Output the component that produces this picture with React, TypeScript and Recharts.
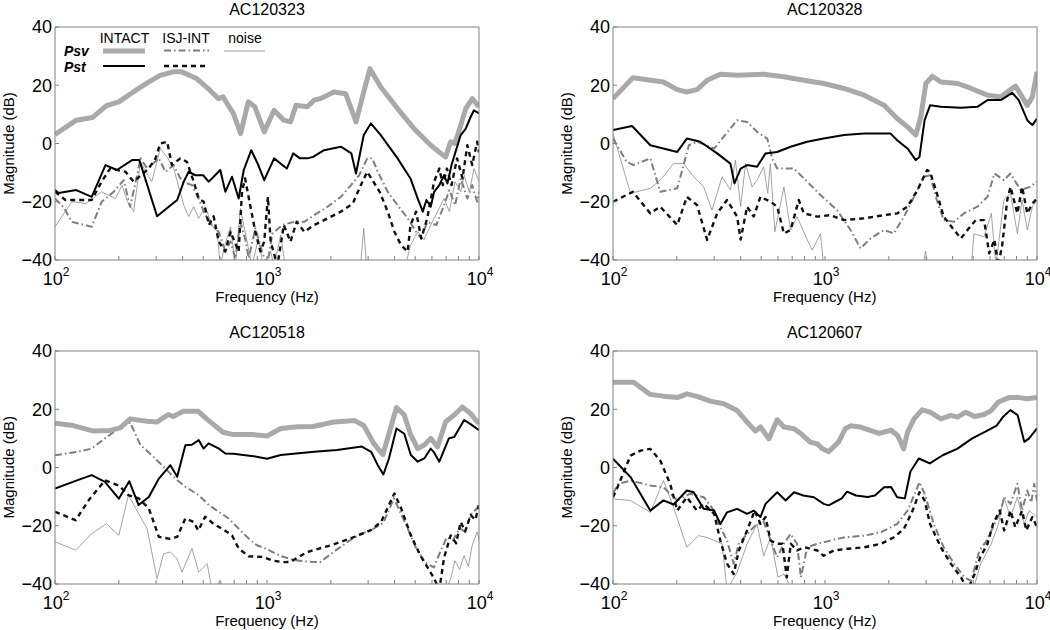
import React from 'react';
import { LineChart, Line, XAxis, YAxis } from 'recharts';

// ---- AC120323 ----
const f323PsvInt = [100,126,150,175,200,234,275,313,361,396,466,538,590,620,694,751,816,877,970,1080,1200,1290,1370,1550,1670,1780,2070,2350,2630,2860,3060,3440,4130,4940,5920,6610,6960,7350,7700,8200,8660,9290,10000];
const v323PsvInt = [3.1,8,8.9,13,14.3,17.7,21,23.4,24.6,24.6,22.3,18.3,15.4,16,10.3,3.4,14.3,12.6,4,11.4,8,7.4,13.1,12.6,14.9,15.4,17.7,17.1,7.4,17.7,25.7,19.4,12,5.1,-0.6,-3.4,-4.6,0.6,0,6.3,12,15.4,12.6];
const f323PstInt = [100,104,126,149,173,196,231,250,303,344,377,405,427,459,500,530,550,602,636,684,735,777,843,910,970,1080,1240,1330,1430,1550,1650,1860,2230,2500,2630,2860,3090,3440,4130,4750,5140,5430,5650,5920,6140,6500,6840,7100,7420,7710,8200,8660,9130,9470,10000];
const v323PstInt = [-16,-17,-16,-18.3,-7.4,-9.1,-5.7,-5.7,-25,-21.7,-19.4,-13.1,-9.7,-10.9,-10.9,-13.1,-12,-9.1,-16.6,-11.4,-18.9,-9.1,-2.3,-7.4,-12.6,-5.1,-8.6,-3.4,-5.1,-5.1,-4.6,-2.3,-1.1,-3.4,-10.3,2.9,6.9,2.9,-5.1,-12,-18.9,-23.4,-19.4,-21.7,-16.6,-14.3,-10.9,-13.7,-7.4,-3.4,2.9,5.1,9.1,11.4,10.3];
const f323PsvIsj = [100,110,120,149,166,189,211,226,244,253,272,309,332,363,397,443,476,511,550,592,636,673,709,749,790,820,881,948,1000,1060,1180,1340,1500,1670,1930,2230,2490,2720,2970,3140,3330,3710,4130,4610,5050,5340,5700,6290,6840,7250,7710,8200,8810,9290,9800,10000];
const v323PsvIsj = [-18.9,-22,-26.9,-28.6,-20,-16.6,-12.6,-21.7,-10.9,-5.1,-8.6,-5.1,-9.7,-7.4,-13.1,-14.3,-18.9,-24.6,-28,-30.3,-37.1,-33.7,-39.4,-26.9,-33,-39.4,-29.1,-37.1,-42,-31,-28,-26.9,-26.9,-24.6,-21.7,-18.3,-14.3,-10.9,-5.1,-5.1,-9.7,-16.6,-21.2,-25.7,-30.3,-32.6,-26.9,-28,-21.2,-16,-21.2,-12,-18.9,-14.3,-20,-16.6];
const f323PstIsj = [100,112,149,166,182,215,235,277,298,314,338,356,390,419,451,476,503,532,560,592,636,673,735,762,788,833,881,931,970,1010,1040,1120,1200,1290,1380,1500,1670,1930,2230,2540,2770,2970,3400,3710,3990,4290,4610,4750,5050,5340,5700,6140,6500,6750,7060,7420,7880,8360,8810,9290,9800,10000];
const v323PstIsj = [-16.6,-19.4,-19.4,-13.1,-8.6,-9.7,-13.1,-8.6,-5.1,0,0.6,-7.4,-5.1,-6.3,-13.1,-18.9,-20,-28,-25,-33.7,-37.1,-30.3,-37.1,-16.6,-12,-21.2,-30.3,-37.1,-33.7,-18.3,-33.7,-42,-28,-33.7,-26.9,-30.3,-28,-25.7,-23.4,-20.6,-14.3,-9.7,-16.6,-23.4,-30.3,-34.9,-37.1,-28,-23.4,-32.6,-25.7,-13.1,-8.6,-14.3,-8.6,-14.3,-5.1,-12,-0.6,-7.4,0.6,-3];
const f323Noise = [100,120,140,166,193,207,220,235,253,270,286,314,340,363,405,427,451,476,511,550,582,602,636,673,709,749,788,850,910,960,1040,1080,1160,1220,2760,2860,2950,4500,4750,5140,5500,5920,6380,6840,7250,7710,8200,8510,9000,9470,10000];
const v323Noise = [-28.6,-20,-20.6,-16.6,-18.9,-14.3,-20,-23.4,-6.3,-10,-13.1,-1.7,-5,-8.6,-21.2,-25.1,-21.7,-25.7,-21.7,-28,-30.3,-42,-34.3,-28.6,-42,-22.3,-30.3,-42,-32.6,-42,-37,-42,-31.4,-42,-42,-29.1,-42,-42,-35,-30.3,-33,-28,-23.4,-18.9,-23.4,-13.1,-16.6,-10.9,-16.6,-8.6,-13.1];

// ---- AC120328 ----
const f328PsvInt = [100,124,173,201,223,249,278,321,385,514,638,795,986,1230,1530,1900,2190,2450,2680,2830,2990,3210,3520,4220,4890,5840,6750,7500,7920,8510,9000,9510,10000];
const v328PsvInt = [15.4,22.6,21.1,18.5,17.7,18.5,21.7,23.8,23.4,23.8,22.9,21.7,20.6,18.9,16.6,13.1,8.6,5.7,2.9,9.1,20.6,23.1,21.1,20.6,18.9,16.6,16,18.5,19.7,16,13.1,16,24.6];
const f328PstInt = [100,123,150,201,223,258,310,358,374,400,429,478,524,595,688,824,986,1230,1530,2040,2190,2450,2680,2790,2950,3130,3520,4370,5230,5840,6750,7640,8200,9000,9510,10000];
const v328PstInt = [4.6,6,-0.6,-2.9,1.7,0.6,-3.4,-6.9,-13.7,-8.6,-7.4,-8,-3.4,-2.9,-1.1,0.6,1.7,2.9,3.4,3.4,1.1,-1.7,-5.7,-4.6,8,13.1,12.6,12.3,12.6,14.9,14.9,17.4,14.9,8,6.3,8.6];
const f328PsvIsj = [100,116,125,150,167,201,228,249,300,385,429,478,534,563,595,714,824,952,1140,1320,1470,1640,1900,2110,2360,2630,2930,3130,3370,3630,4060,4520,5230,5840,6300,6980,7500,8370,9260,10000];
const v328PsvIsj = [1.7,-6.3,-7.4,-5.1,-16.6,-15.4,-0.6,0.6,-1.7,8,7.4,4,1.7,-5.1,-8.6,-8.6,-13.1,-17.7,-22.9,-29.7,-36,-32.6,-29.7,-30.9,-25.1,-18.3,-11.4,-10.9,-19.4,-26.3,-26.9,-24,-21.7,-18.3,-10.3,-12.6,-10.3,-16,-14.9,-13.1];
const f328PstIsj = [100,124,150,167,201,223,249,278,310,345,385,400,429,461,496,554,595,640,688,752,795,920,1060,1230,1530,1900,2190,2450,2730,3030,3130,3370,3630,4060,4380,4700,5140,5630,5950,6300,6550,6850,7240,7500,8080,8510,9000,9510,10000];
const v328PstIsj = [-20,-16.6,-24,-21.7,-28,-18.3,-21.1,-33.1,-24,-19.4,-25.1,-33,-21.7,-25.1,-18.3,-20,-21.7,-30.9,-29.7,-19.4,-24,-25.1,-24.6,-26.3,-25.7,-24.6,-24,-21.7,-16,-9.1,-9.7,-17.1,-25.1,-29.7,-32.6,-29.7,-26.3,-26.3,-37.7,-33,-42,-35,-19.4,-14.9,-24,-14.9,-24,-20.6,-18.9];
const f328Noise = [100,121,150,170,193,215,240,268,293,327,358,378,400,422,453,478,514,537,552,580,640,688,738,824,870,952,986,1020,2900,2980,3060,4900,5040,5630,6090,6400,6980,7500,8080,8500,9000,9510,10000];
const v328Noise = [3.4,-17.1,-15.4,-12,-6.9,-6.9,-11.4,-14.9,-22.9,-11.4,-16,-5.7,-21.7,-6.9,-14.9,-12.6,-8,-17.1,-6.9,-30.3,-14.9,-29.7,-25.1,-33,-36.6,-31,-42,-42,-42,-37,-42,-42,-31,-32,-24,-42,-19.4,-17.1,-31,-19.4,-29.7,-21.7,-19.4];

// ---- AC120518 ----
const f518PsvInt = [100,122,152,182,203,226,271,302,342,361,403,474,519,620,694,863,1000,1160,1390,1650,2070,2590,2860,3200,3520,3760,4080,4440,4770,5140,5520,5920,6380,6960,7640,8350,9130,10000];
const v518PsvInt = [15.2,14.4,12.5,12.7,13.6,16.7,15.9,15.6,18.2,17.5,19.3,19.3,16.7,12.1,11.3,11.3,10.8,13.4,14,14.1,15.6,16.1,14.4,8.1,4.4,11.6,20.6,18,11.1,6.5,7.7,10,7.1,15.7,18,20.8,18.5,15];
const f518PstInt = [100,126,149,172,200,224,248,277,309,350,377,412,442,476,502,530,590,636,694,863,1000,1160,1670,2140,2800,3100,3330,3540,3760,4080,4440,4770,5140,5520,5920,6120,6500,7210,7640,8510,9130,10000];
const v518PstInt = [-7.2,-4.5,-2.6,-4.9,-10.7,-4.7,-12.9,-10.1,-3.8,0.8,-3.2,7.6,7.8,9.4,6.5,8.3,6.6,4.8,4.7,3.9,3,4.3,5.4,6,7.2,5.4,0.8,-2.4,3.1,13.4,11.6,4.3,2,3.1,6.5,5.3,2,10,10.5,16.3,14.9,12.8];
const f518PsvIsj = [100,126,149,172,200,226,253,286,331,369,412,476,532,592,660,735,820,895,983,1150,1340,1600,1780,2070,2470,2750,3200,3540,3970,4230,4610,5000,5520,6120,6500,7040,7540,8100,8600,9130,9800,10000];
const v518PsvIsj = [4.2,5.3,6.5,10,13.4,15.5,7.7,4.2,-0.3,-3.8,-6.6,-9.5,-12.9,-15.2,-17.5,-21,-24.4,-26.7,-27.8,-30.3,-31.8,-32.4,-32.5,-28.9,-24.9,-23,-20.9,-19,-10.6,-15,-20.9,-27,-32.4,-34.3,-29.7,-24,-25,-20.9,-22,-16.3,-14,-12.5];
const f518PstIsj = [100,125,145,172,200,222,248,277,309,349,377,412,451,474,511,560,613,684,735,820,948,1070,1190,1290,1550,2000,2470,3090,3450,3760,3990,4290,4770,5290,5800,6140,6500,6840,7350,7800,8200,8600,9130,9600,10000];
const v518PstIsj = [-15.2,-18.1,-11,-4.4,-6.2,-9.5,-10.6,-14,-23.8,-24.5,-23.8,-17.5,-18.7,-21.6,-16.9,-19.4,-21,-23.3,-27.8,-30.5,-30.7,-32,-32.5,-32.4,-29,-26.7,-24.4,-21.5,-18.7,-12.9,-8.9,-14,-23.3,-30.2,-35,-38.1,-42,-31,-23.3,-26,-18.7,-22,-16.3,-18,-13];
const f518Noise = [100,125,149,175,200,222,240,272,303,325,350,377,397,443,476,522,550,600,640,7000,7350,7700,8100,8510,8900,9290,9800,10000];
const v518Noise = [-25.5,-28.4,-22.7,-19.3,-23.3,-9.5,-14,-21,-38.2,-29.6,-29,-31.4,-35.9,-27.8,-35.9,-33,-42,-39,-42,-42,-38.2,-32,-35,-30.2,-34,-26.7,-22.1,-25];

// ---- AC120607 ----
const f607PsvInt = [100,125,150,173,201,223,249,288,333,385,429,470,496,544,595,640,714,770,852,920,970,1040,1160,1250,1320,1470,1800,2050,2200,2300,2350,2450,2630,2870,3130,3520,3920,4220,4610,5080,5630,6090,6580,7370,8260,9000,10000];
const v607PsvInt = [29.3,29.3,25.1,24.5,24,25.3,24.4,22.8,21.9,19.6,15.6,12.5,13.9,9.9,16.4,13.9,13.3,11.6,8.7,8.1,6.5,5.4,8.8,13.4,14.3,13.9,11.7,12.8,11,8,6.4,12.1,16.7,19.8,19,16.7,17.9,17.3,19,17.5,18.2,19.6,22.5,24,24,23.6,24];
const f607PstInt = [100,121,150,173,193,223,240,268,300,321,345,385,429,461,496,524,595,652,714,790,886,986,1040,1200,1270,1400,1590,1720,1900,2050,2190,2380,2530,2770,3120,3590,4220,4950,5680,6450,6920,7490,8100,8710,9180,10000];
const v607PstInt = [3,-3.3,-14.8,-11.3,-12.7,-7.9,-8.5,-14.2,-14.8,-19.4,-15.4,-14.2,-15.9,-14.8,-17,-12.5,-8.5,-11.3,-8.5,-9.6,-10.2,-12.5,-13,-10.6,-8.3,-9.6,-10.1,-9.6,-6.8,-6.7,-10.2,-10.6,-1.4,3.1,1.4,4.2,6.5,10,12.2,14.4,17.4,19.7,18,8.8,10,13.4];
const f607PsvIsj = [100,106,121,150,173,201,231,268,300,321,345,371,392,429,478,514,554,595,640,688,738,770,824,920,1060,1230,1530,1840,2190,2450,2630,2790,2950,3260,3630,4060,4550,4890,5350,5800,6300,6750,7000,7500,8080,8500,9000,9400,9700,10000];
const v607PsvIsj = [-9,-5.6,-4.5,-6.2,-6.8,-11.3,-9,-10.2,-14.8,-20.5,-25.1,-33,-26.2,-22.8,-19.4,-18.7,-25.1,-30.8,-26.2,-22.8,-26.2,-37.7,-27.4,-26.2,-25.1,-24,-23.4,-22.2,-19.4,-14.8,-9.6,-5,-9,-19.4,-27.4,-33,-37.7,-38.9,-28.5,-25.1,-19.4,-14.8,-10.2,-12.5,-5.6,-14.8,-7.9,-12,-5.6,-11.3];
const f607PstIsj = [100,105,121,135,150,167,186,201,223,249,268,300,321,345,371,392,429,466,496,524,554,595,630,660,690,738,800,920,986,1100,1280,1530,1840,2110,2360,2590,2790,2950,3130,3520,3920,4380,4710,5080,5400,5840,6200,6670,7000,7500,7900,8510,8900,9510,10000];
const v607PstIsj = [-10.2,-6.8,4.1,5.8,6.4,2.4,-5.6,-14.8,-10.2,-14.8,-12.5,-15.9,-25.1,-33,-36.6,-28.5,-21.6,-14.8,-19.4,-17,-25.1,-26.2,-26.2,-37.7,-26.2,-28.5,-27.4,-28.5,-30.3,-28.5,-27.9,-27.4,-26.2,-24,-21,-14.8,-8.5,-11.3,-19.4,-27.4,-33,-37.7,-42,-36.6,-30.8,-26.2,-19.4,-14.8,-21.6,-14.8,-20.5,-14.8,-21.6,-17,-20.5];
const f607Noise = [100,121,150,173,193,223,253,278,300,327,345,385,429,478,514,554,600,640,700,5000,5430,6090,6580,6980,7500,8080,8700,9200,10000];
const v607Noise = [-10.8,-11.3,-15.4,-4.5,-13.7,-27.4,-23.4,-24,-25.1,-26.2,-42,-36,-26.2,-19.4,-30.3,-24,-37.7,-36.6,-42,-42,-33,-26.2,-19.4,-10.2,-17,-10.2,-19.4,-14.8,-17];

const X_TICKS = [100, 200, 300, 400, 500, 600, 700, 800, 900, 1000, 2000, 3000, 4000, 5000, 6000, 7000, 8000, 9000, 10000];
const Y_TICKS = [-40, -20, 0, 20, 40];

const FRAME = '#808080';
const FONT = '"Liberation Sans", Arial, Helvetica, sans-serif';

type Pt = { f: number; v: number };
const zip = (f: number[], v: number[]): Pt[] => f.map((x, i) => ({ f: x, v: v[i] }));

// drawing order: noise at the back, INTACT Pst on top
const SERIES = [
  { key: 'noise', stroke: '#8c8c8c', width: 0.8, dash: undefined },
  { key: 'psvIsj', stroke: '#7d7d7d', width: 2, dash: '7 3 1.5 3' },
  { key: 'pstIsj', stroke: '#111111', width: 2.4, dash: '5 4' },
  { key: 'psvInt', stroke: '#a9a9a9', width: 5, dash: undefined },
  { key: 'pstInt', stroke: '#000000', width: 2, dash: undefined },
];

const panels = [
  {
    title: 'AC120323', x: 55, y: 27,
    data: {
      psvInt: zip(f323PsvInt, v323PsvInt), pstInt: zip(f323PstInt, v323PstInt),
      psvIsj: zip(f323PsvIsj, v323PsvIsj), pstIsj: zip(f323PstIsj, v323PstIsj),
      noise: zip(f323Noise, v323Noise),
    } as Record<string, Pt[]>,
  },
  {
    title: 'AC120328', x: 612.7, y: 27,
    data: {
      psvInt: zip(f328PsvInt, v328PsvInt), pstInt: zip(f328PstInt, v328PstInt),
      psvIsj: zip(f328PsvIsj, v328PsvIsj), pstIsj: zip(f328PstIsj, v328PstIsj),
      noise: zip(f328Noise, v328Noise),
    } as Record<string, Pt[]>,
  },
  {
    title: 'AC120518', x: 55, y: 350.7,
    data: {
      psvInt: zip(f518PsvInt, v518PsvInt), pstInt: zip(f518PstInt, v518PstInt),
      psvIsj: zip(f518PsvIsj, v518PsvIsj), pstIsj: zip(f518PstIsj, v518PstIsj),
      noise: zip(f518Noise, v518Noise),
    } as Record<string, Pt[]>,
  },
  {
    title: 'AC120607', x: 612.7, y: 350.7,
    data: {
      psvInt: zip(f607PsvInt, v607PsvInt), pstInt: zip(f607PstInt, v607PstInt),
      psvIsj: zip(f607PsvIsj, v607PsvIsj), pstIsj: zip(f607PstIsj, v607PstIsj),
      noise: zip(f607Noise, v607Noise),
    } as Record<string, Pt[]>,
  },
];

const PW = 424; // plot width
const PH = 233; // plot height

const fmtY = (v: number) => (v < 0 ? `\u2212${-v}` : `${v}`);

// only decades get a label (10^n), minor ticks just keep their tick line
const renderFreqTick = (props: any) => {
  const { x, y, payload } = props;
  const exp = Math.round(Math.log10(payload.value));
  if (Math.abs(10 ** exp - payload.value) > 1e-6) return <g />;
  return (
    <text x={x + 1} y={y + 24.5} textAnchor="middle" fontSize={18} fill="#000">
      10<tspan dy={-9} fontSize={12}>{exp}</tspan>
    </text>
  );
};

function Panel({ p }: { p: (typeof panels)[number] }) {
  return (
    <div style={{ position: 'absolute', left: p.x - 50, top: p.y - 30 }}>
      <LineChart width={520} height={298} margin={{ top: 29, right: 45, bottom: 5, left: 0 }}>
        <XAxis
          xAxisId="b" type="number" dataKey="f" scale="log" domain={[100, 10000]} allowDataOverflow
          ticks={X_TICKS} interval={0} tick={renderFreqTick} tickSize={-4} tickMargin={4}
          height={30} stroke={FRAME}
        />
        <XAxis
          xAxisId="t" orientation="top" type="number" dataKey="f" scale="log" domain={[100, 10000]} allowDataOverflow
          ticks={X_TICKS} interval={0} tick={false} tickSize={-4} height={1} stroke={FRAME}
        />
        <YAxis
          yAxisId="l" type="number" domain={[-40, 40]} allowDataOverflow ticks={Y_TICKS} interval={0}
          width={50} tickSize={-4} tickMargin={7} tickFormatter={fmtY}
          tick={{ fontSize: 18, fill: '#000' }} stroke={FRAME}
        />
        <YAxis
          yAxisId="r" orientation="right" type="number" domain={[-40, 40]} allowDataOverflow ticks={Y_TICKS}
          interval={0} width={1} tickSize={-4} tick={false} stroke={FRAME}
        />
        {SERIES.map((s) => (
          <Line
            key={s.key}
            xAxisId="b"
            yAxisId="l"
            data={p.data[s.key]}
            dataKey="v"
            type="linear"
            stroke={s.stroke}
            strokeWidth={s.width}
            strokeDasharray={s.dash}
            strokeLinejoin="round"
            dot={false}
            activeDot={false}
            isAnimationActive={false}
          />
        ))}
      </LineChart>
    </div>
  );
}

function Labels() {
  return (
    <svg
      width={1050}
      height={630}
      style={{ position: 'absolute', left: 0, top: 0, pointerEvents: 'none' }}
    >
      {panels.map((p) => {
        const cx = p.x + PW / 2;
        const cy = p.y + PH / 2;
        const labelX = p.x - 41;
        return (
          <g key={p.title} fill="#000">
            <text x={cx} y={p.y - 12.5} textAnchor="middle" fontSize={16}>{p.title}</text>
            <text x={cx} y={p.y + PH + 42} textAnchor="middle" fontSize={15}>Frequency (Hz)</text>
            <text
              x={labelX} y={cy} textAnchor="middle" fontSize={15}
              transform={`rotate(-90 ${labelX} ${cy})`}
            >
              Magnitude (dB)
            </text>
          </g>
        );
      })}
      {/* legend, top-left panel */}
      <g fontSize={14} fill="#000">
        <text x={124.5} y={43} textAnchor="middle">INTACT</text>
        <text x={186} y={43} textAnchor="middle">ISJ-INT</text>
        <text x={245} y={43} textAnchor="middle">noise</text>
        <text x={64} y={56} fontWeight="bold" fontStyle="italic">Psv</text>
        <text x={64} y={72} fontWeight="bold" fontStyle="italic">Pst</text>
      </g>
      <line x1={103} x2={145} y1={51} y2={51} stroke="#a9a9a9" strokeWidth={5} />
      <line x1={164} x2={209} y1={50.5} y2={50.5} stroke="#7d7d7d" strokeWidth={2} strokeDasharray="7 3 1.5 3" />
      <line x1={224} x2={265} y1={51} y2={51} stroke="#8c8c8c" strokeWidth={0.8} />
      <line x1={103} x2={145} y1={66} y2={66} stroke="#000" strokeWidth={2} />
      <line x1={164} x2={209} y1={66} y2={66} stroke="#111" strokeWidth={2.4} strokeDasharray="5 4" />
    </svg>
  );
}

export default function App() {
  return (
    <div
      style={{
        position: 'absolute', left: 0, top: 0, width: 1050, height: 630,
        overflow: 'hidden', background: '#fff', fontFamily: FONT,
      }}
    >
      {panels.map((p) => (
        <Panel key={p.title} p={p} />
      ))}
      <Labels />
    </div>
  );
}
